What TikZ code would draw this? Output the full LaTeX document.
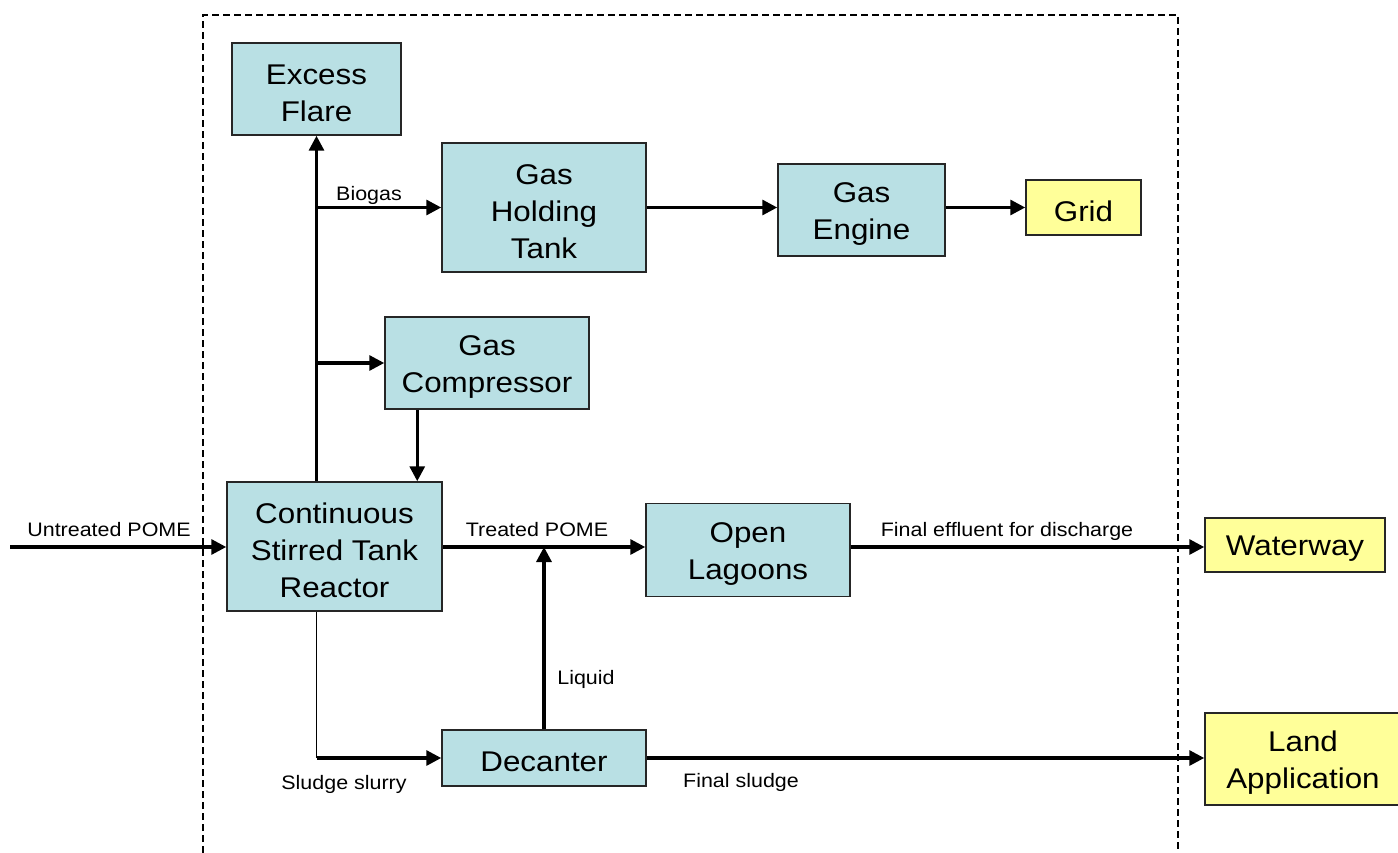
\documentclass[tikz,border=0pt]{standalone}
\usepackage{fontspec}
\setmainfont[FakeStretch=1.1]{Liberation Sans}
\usetikzlibrary{arrows.meta,calc}
\definecolor{boxblue}{RGB}{185,224,228}
\definecolor{boxyellow}{RGB}{255,255,153}
\tikzset{
  box/.style={draw=black!85, line width=1.5pt, fill=boxblue, inner sep=0pt},
  ybox/.style={box, fill=boxyellow},
  boxtxt/.style={inner sep=0pt, align=center, font=\fontsize{28.5}{37}\selectfont, yshift=-4pt},
  arr/.style={line width=3.2pt, -{Triangle[length=15pt,width=15pt]}},
  thin/.style={line width=1.5pt},
  lab/.style={font=\fontsize{19.5}{22}\selectfont, inner sep=0pt}
}
\begin{document}
\begin{tikzpicture}[x=1pt,y=-1pt]
\useasboundingbox (0,0) rectangle (1398,853);
% boundary
\draw[line width=1.8pt, dash pattern=on 7pt off 4pt] (203,853) -- (203,15) -- (1178,15) -- (1178,853);
% nodes
\node[box, minimum width=169, minimum height=92] (flare) at (316.5,89) {};
\node[box, minimum width=204, minimum height=129] (tank) at (544,207.5) {};
\node[box, minimum width=167, minimum height=92] (engine) at (861.5,210) {};
\node[ybox, minimum width=115, minimum height=55] (grid) at (1083.5,207.5) {};
\node[box, minimum width=204, minimum height=92] (comp) at (487,363) {};
\node[box, minimum width=215, minimum height=129] (cstr) at (334.5,546.5) {};
\node[box, minimum width=204, minimum height=93] (lagoon) at (748,550) {};
\node[ybox, minimum width=180, minimum height=54] (water) at (1295,545) {};
\node[box, minimum width=204, minimum height=56] (dec) at (544,758) {};
\node[ybox, minimum width=196, minimum height=92] (land) at (1303,759) {};
% box texts
\node[boxtxt] (flare-t) at (flare.center) {Excess\\Flare};
\node[boxtxt] (tank-t) at (tank.center) {Gas\\Holding\\Tank};
\node[boxtxt] (engine-t) at (engine.center) {Gas\\Engine};
\node[boxtxt] (grid-t) at (grid.center) {Grid};
\node[boxtxt] (comp-t) at (comp.center) {Gas\\Compressor};
\node[boxtxt] (cstr-t) at (cstr.center) {Continuous\\Stirred Tank\\Reactor};
\node[boxtxt] (lagoon-t) at (lagoon.center) {Open\\Lagoons};
\node[boxtxt] (water-t) at (water.center) {Waterway};
\node[boxtxt] (dec-t) at (dec.center) {Decanter};
\node[boxtxt] (land-t) at (land.center) {Land\\Application};
\coordinate (src) at (10,547);
\coordinate (cd) at ($(comp.south west)+(33,0)$);
% connectors
\draw[arr] (cstr.north -| flare.south) -- (flare.south);
\draw[arr] (flare.south |- tank.west) -- (tank.west);
\draw[arr] (flare.south |- comp.west) -- (comp.west);
\draw[arr] (tank.east) -- (tank.east -| engine.west);
\draw[arr] (engine.east |- grid.west) -- (grid.west);
\draw[arr] (cd) -- (cd |- cstr.north);
\draw[arr] (src) -- (src -| cstr.west);
\draw[arr] (src -| cstr.east) -- (src -| lagoon.west);
\draw[arr] (dec.north) -- (dec.north |- src);
\draw[thin] (cstr.south -| flare.south) -- (flare.south |- dec.west);
\draw[arr] (flare.south |- dec.west) -- (dec.west);
\draw[arr] (src -| lagoon.east) -- (src -| water.west);
\draw[arr] (dec.east) -- (dec.east -| land.west);
% labels
\node[lab] (l1) at (109,530) {Untreated POME};
\node[lab] (l2) at (369,195) {Biogas};
\node[lab] (l3) at (537,530) {Treated POME};
\node[lab] (l4) at (1007,531) {Final effluent for discharge};
\node[lab] (l5) at (586,679) {Liquid};
\node[lab] (l6) at (344,784) {Sludge slurry};
\node[lab] (l7) at (741,782) {Final sludge};
\end{tikzpicture}
\end{document}
